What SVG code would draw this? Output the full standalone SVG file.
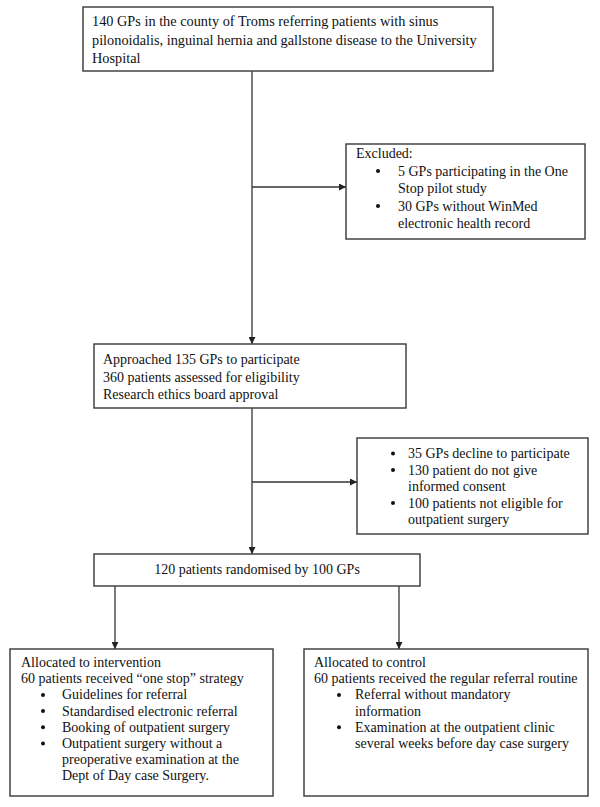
<svg xmlns="http://www.w3.org/2000/svg" width="600" height="807" viewBox="0 0 600 807">
<style>
.box{fill:#fff;stroke:#444;stroke-width:1.5}
.t{font-family:"Liberation Serif","Times New Roman",serif;font-size:14px;fill:#111}
.ln{fill:none;stroke:#333;stroke-width:1.3}
.b{fill:#111}
</style>
<defs>
<marker id="ah" viewBox="0 0 10 10" refX="10" refY="5" markerWidth="7" markerHeight="7" markerUnits="userSpaceOnUse" orient="auto">
<path d="M0,0 L10,5 L0,10 z" fill="#222"/>
</marker>
</defs>
<rect width="600" height="807" fill="#fff"/>
<g id="connectors">
<line class="ln" x1="252" y1="71" x2="252" y2="344" marker-end="url(#ah)"/>
<line class="ln" x1="252" y1="187" x2="346" y2="187" marker-end="url(#ah)"/>
<line class="ln" x1="252" y1="408" x2="252" y2="554" marker-end="url(#ah)"/>
<line class="ln" x1="252" y1="482" x2="357" y2="482" marker-end="url(#ah)"/>
<line class="ln" x1="115" y1="586" x2="115" y2="649" marker-end="url(#ah)"/>
<line class="ln" x1="399" y1="586" x2="399" y2="649" marker-end="url(#ah)"/>
</g>
<g id="gps">
<rect class="box" x="83" y="7" width="410" height="64"/>
<text class="t" style="font-size:14.3px"><tspan x="92" y="26">140 GPs in the county of Troms referring patients with sinus</tspan><tspan x="92" y="44.5">pilonoidalis, inguinal hernia and gallstone disease to the University</tspan><tspan x="92" y="63">Hospital</tspan></text>
</g>
<g id="excluded">
<rect class="box" x="346" y="144" width="239" height="95"/>
<text class="t"><tspan x="356" y="158">Excluded:</tspan><tspan x="398" y="175.5">5 GPs participating in the One</tspan><tspan x="398" y="193">Stop pilot study</tspan><tspan x="398" y="210.5">30 GPs without WinMed</tspan><tspan x="398" y="228">electronic health record</tspan></text>
<circle class="b" cx="378" cy="171" r="2"/>
<circle class="b" cx="378" cy="206" r="2"/>
</g>
<g id="approached">
<rect class="box" x="94" y="344" width="312" height="64"/>
<text class="t"><tspan x="103" y="364">Approached 135 GPs to participate</tspan><tspan x="103" y="381.5">360 patients assessed for eligibility</tspan><tspan x="103" y="399">Research ethics board approval</tspan></text>
</g>
<g id="declined">
<rect class="box" x="357" y="438" width="231" height="96"/>
<text class="t"><tspan x="408" y="458">35 GPs decline to participate</tspan><tspan x="408" y="474.5">130 patient do not give</tspan><tspan x="408" y="491">informed consent</tspan><tspan x="408" y="507.5">100 patients not eligible for</tspan><tspan x="408" y="524">outpatient surgery</tspan></text>
<circle class="b" cx="393" cy="453.5" r="2"/>
<circle class="b" cx="393" cy="470" r="2"/>
<circle class="b" cx="393" cy="503" r="2"/>
</g>
<g id="randomised">
<rect class="box" x="94" y="554" width="326" height="32"/>
<text class="t" x="257" y="574" text-anchor="middle">120 patients randomised by 100 GPs</text>
</g>
<g id="intervention">
<rect class="box" x="10" y="649" width="263" height="147"/>
<text class="t"><tspan x="21" y="667">Allocated to intervention</tspan><tspan x="21" y="683.2">60 patients received “one stop” strategy</tspan><tspan x="62" y="699.4">Guidelines for referral</tspan><tspan x="62" y="715.6">Standardised electronic referral</tspan><tspan x="62" y="731.8">Booking of outpatient surgery</tspan><tspan x="62" y="748">Outpatient surgery without a</tspan><tspan x="62" y="764.2">preoperative examination at the</tspan><tspan x="62" y="780.4">Dept of Day case Surgery.</tspan></text>
<circle class="b" cx="43" cy="694.9" r="2"/>
<circle class="b" cx="43" cy="711.1" r="2"/>
<circle class="b" cx="43" cy="727.3" r="2"/>
<circle class="b" cx="43" cy="743.5" r="2"/>
</g>
<g id="control">
<rect class="box" x="304" y="649" width="284" height="147"/>
<text class="t"><tspan x="314" y="667">Allocated to control</tspan><tspan x="314" y="683.2">60 patients received the regular referral routine</tspan><tspan x="355" y="699.4">Referral without mandatory</tspan><tspan x="355" y="715.6">information</tspan><tspan x="355" y="731.8">Examination at the outpatient clinic</tspan><tspan x="355" y="748">several weeks before day case surgery</tspan></text>
<circle class="b" cx="339" cy="694.9" r="2"/>
<circle class="b" cx="339" cy="727.3" r="2"/>
</g>
</svg>
